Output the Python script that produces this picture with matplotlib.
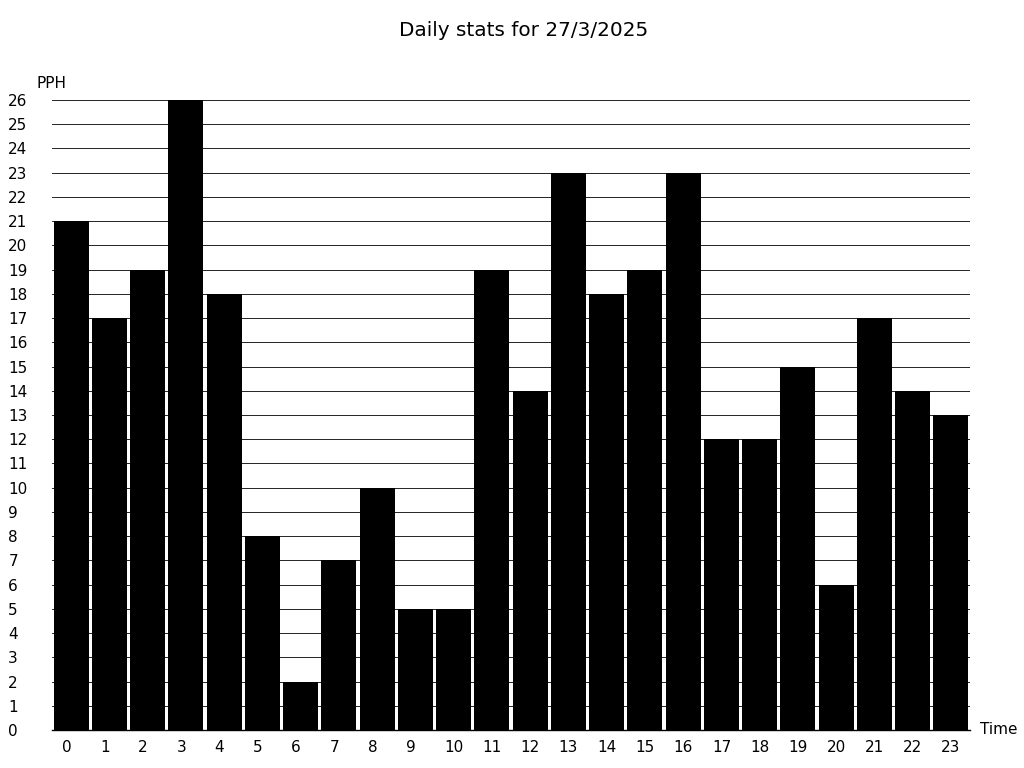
import matplotlib.pyplot as plt

# Hourly values
hours = list(range(24))
pph = [21, 17, 19, 26, 18, 8, 2, 7, 10, 5, 5, 19, 14, 23, 18, 19, 23, 12, 12, 15, 6, 17, 14, 13]

fig = plt.figure(figsize=(10.24, 7.68), dpi=100)
ax = fig.add_axes([52 / 1024, 38 / 768, 918 / 1024, 630 / 768])

# Grid lines under the bars
ax.set_axisbelow(True)
ax.yaxis.grid(True, color='black', linewidth=0.6)

ax.bar(hours, pph, width=0.92, color='black')

ax.set_xlim(-0.5, 23.5)
ax.set_ylim(0, 26)
# hour labels sit left-aligned inside each bar slot
ax.set_xticks([h - 0.25 for h in hours])
ax.set_xticklabels([str(h) for h in hours], ha='left')
ax.set_yticks(range(0, 27))

for s in ['top', 'right', 'left']:
    ax.spines[s].set_visible(False)
ax.spines['bottom'].set_linewidth(1.0)

ax.tick_params(axis='both', length=0, labelsize=11)
ax.tick_params(axis='x', pad=7)
ax.tick_params(axis='y', pad=31.5)
for lbl in ax.get_yticklabels():
    lbl.set_horizontalalignment('left')

fig.text(524 / 1024, 1 - 30 / 768, 'Daily stats for 27/3/2025', ha='center', va='center', fontsize=14.4)
fig.text(37 / 1024, 1 - 84 / 768, 'PPH', ha='left', va='center', fontsize=11)
fig.text(980 / 1024, 1 - 730 / 768, 'Time', ha='left', va='center', fontsize=11)

plt.savefig('out.png', dpi=100)
